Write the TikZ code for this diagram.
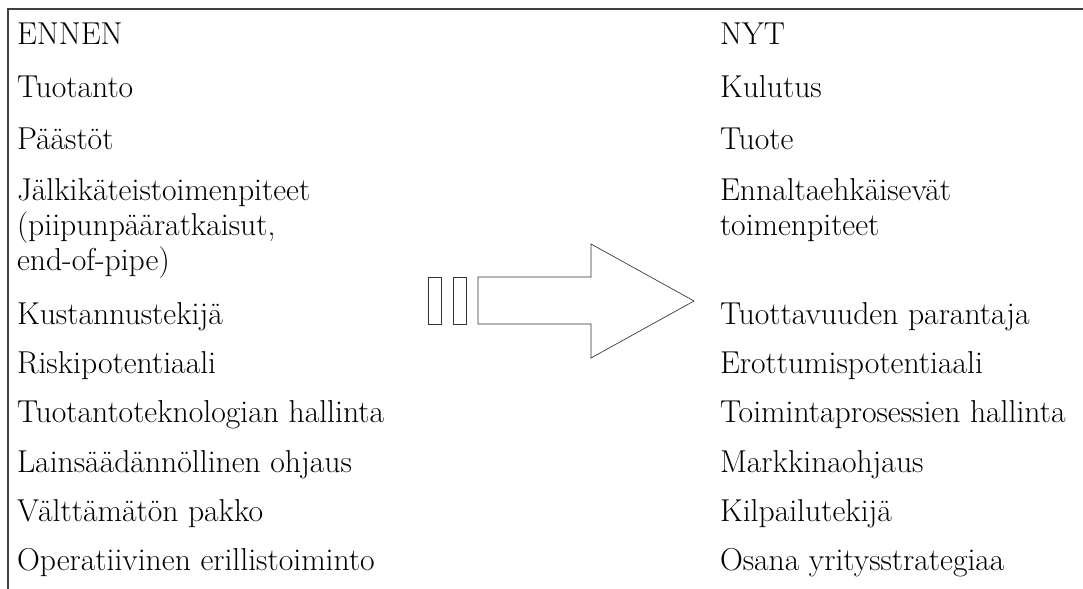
\documentclass[tikz,border=0pt]{standalone}
\usepackage{tikz}
\usetikzlibrary{positioning}

\begin{document}
\begin{tikzpicture}[x=0.75pt, y=-0.75pt, node distance=37pt, every node/.style={inner sep=0pt, outer sep=0pt}]
	\tikzstyle{item} = [font=\fontsize{23.75}{26.25}\selectfont, align=left, anchor=base west]
	\tikzstyle{frame} = [black!75, line width=0.9pt]
	\tikzstyle{bigarrow} = [draw=black!80, line width=0.5pt, fill=white]
	\useasboundingbox (0,0) rectangle (1083,589);

	\draw[frame] (1083,9) -- (8,9) -- (8,589);

	% before
	\node[item] (ennen) at (17,45) {ENNEN};
	\node[item, below=39pt of ennen.base west, anchor=base west] (tuotanto) {Tuotanto};
	\node[item, below=39pt of tuotanto.base west, anchor=base west] (paastot) {Päästöt};
	\node[item, below=90.75pt of paastot.base west, anchor=base west] (jalki) {Jälkikäteistoimenpiteet\\(piipunpääratkaisut,\\end-of-pipe)};
	\node[item, below=40.5pt of jalki.base west, anchor=base west] (kust) {Kustannustekijä};
	\node[item, below=of kust.base west, anchor=base west] (riski) {Riskipotentiaali};
	\node[item, below=of riski.base west, anchor=base west] (tekno) {Tuotantoteknologian hallinta};
	\node[item, below=of tekno.base west, anchor=base west] (laki) {Lainsäädännöllinen ohjaus};
	\node[item, below=of laki.base west, anchor=base west] (pakko) {Välttämätön pakko};
	\node[item, below=of pakko.base west, anchor=base west] (oper) {Operatiivinen erillistoiminto};

	% now
	\node[item, right=527.25pt of ennen.base west, anchor=base west] (nyt) {NYT};
	\node[item, right=527.25pt of tuotanto.base west, anchor=base west] (kulutus) {Kulutus};
	\node[item, right=527.25pt of paastot.base west, anchor=base west] (tuote) {Tuote};
	\node[item, right=527.25pt of jalki.north west, anchor=north west] (ennalta) {Ennaltaehkäisevät\\toimenpiteet};
	\node[item, right=527.25pt of kust.base west, anchor=base west] (tuotto) {Tuottavuuden parantaja};
	\node[item, right=527.25pt of riski.base west, anchor=base west] (erottu) {Erottumispotentiaali};
	\node[item, right=527.25pt of tekno.base west, anchor=base west] (prosessi) {Toimintaprosessien hallinta};
	\node[item, right=527.25pt of laki.base west, anchor=base west] (markkina) {Markkinaohjaus};
	\node[item, right=527.25pt of pakko.base west, anchor=base west] (kilpailu) {Kilpailutekijä};
	\node[item, right=527.25pt of oper.base west, anchor=base west] (strategia) {Osana yritysstrategiaa};

	% big arrow
	\draw[bigarrow] (428,277) rectangle (441,324);
	\draw[bigarrow] (453,277) rectangle (466,324);
	\draw[bigarrow] (478,277) -- (591,277) -- (591,244) -- (694,301) -- (591,358) -- (591,324) -- (478,324) -- cycle;
\end{tikzpicture}
\end{document}
